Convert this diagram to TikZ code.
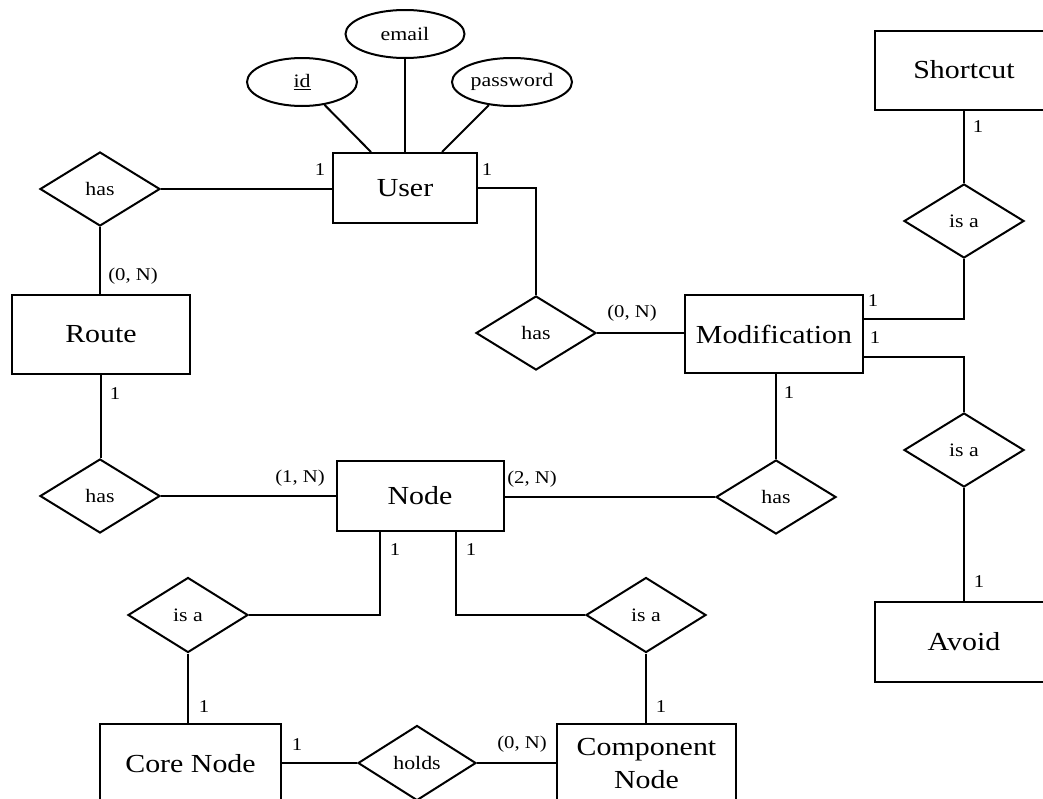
\documentclass[tikz,border=0pt]{standalone}
\usepackage{fontspec}
\setmainfont[FakeStretch=1.15]{Liberation Serif}
\usetikzlibrary{shapes.geometric,calc}
\tikzset{
  base/.style={line width=2pt, draw=black},
  entity/.style={base, rectangle, inner sep=0pt, minimum width=178pt, minimum height=79pt, font=\fontsize{26}{33}\selectfont, align=center},
  rel/.style={base, diamond, inner sep=0pt, minimum width=120pt, minimum height=74pt, font=\fontsize{19}{22}\selectfont},
  attr/.style={base, ellipse, inner sep=0pt, minimum height=48pt, font=\fontsize{19}{22}\selectfont},
  card/.style={inner sep=0pt, font=\fontsize{18}{20}\selectfont},
  conn/.style={line width=2pt}
}
\begin{document}
\begin{tikzpicture}[x=1pt,y=-1pt]
\useasboundingbox (0,0) rectangle (1043,798);
\clip (0,0) rectangle (1043,798);
% entities
\node[entity, minimum width=144pt, minimum height=70pt] (user) at (405,188) {User};
\node[entity] (route) at (101,334) {Route};
\node[entity, minimum width=167pt, minimum height=70pt] (node) at (420,496) {Node};
\node[entity, minimum height=78pt] (mod) at (774,334) {Modification};
\node[entity] (shortcut) at (964,70) {Shortcut};
\node[entity, minimum height=80pt] (avoid) at (964,642) {Avoid};
\node[entity, minimum width=181pt] (core) at (190.5,763.5) {Core Node};
\node[entity, minimum width=179pt] (comp) at (646.5,763.5) {Component\\Node};
% attributes
\node[attr, minimum width=119pt] (email) at (405,34) {email};
\node[attr, minimum width=110pt] (id) at (302,82) {\underline{id}};
\node[attr, minimum width=120pt] (pw) at (512,82) {password};
% relationships
\node[rel] (hasA) at (100,189) {has};
\node[rel] (hasB) at (100,496) {has};
\node[rel] (hasM) at (536,333) {has};
\node[rel] (hasC) at (776,497) {has};
\node[rel] (isaS) at (964,221) {is a};
\node[rel] (isaA) at (964,450) {is a};
\node[rel, minimum height=75pt] (isaL) at (188,615) {is a};
\node[rel, minimum height=75pt] (isaR) at (646,615) {is a};
\node[rel, minimum width=118pt, minimum height=75pt] (holds) at (417,763) {holds};
% attribute links
\draw[conn] (id) -- (user.north -| 371,0);
\draw[conn] (email) -- (user.north -| email.south);
\draw[conn] (pw) -- (user.north -| 442,0);
% connectors
\draw[conn] (hasA.east) -- (hasA.east -| user.west);
\draw[conn] (hasA.south) -- (hasA.south |- route.north);
\draw[conn] (route.south) -- (route.south |- hasB.north);
\draw[conn] (hasB.east) -- (hasB.east -| node.west);
\draw[conn] (user.east) -| (hasM.north);
\draw[conn] (hasM.east) -- (hasM.east -| mod.west);
\draw[conn] (hasC.north) -- (hasC.north |- mod.south);
\draw[conn] (node.east |- hasC.west) -- (hasC.west);
\draw[conn] (mod.east |- 0,319) -| (isaS.south);
\draw[conn] (shortcut.south -| isaS.north) -- (isaS.north);
\draw[conn] (mod.east |- 0,357) -| (isaA.north);
\draw[conn] (isaA.south) -- (isaA.south |- avoid.north);
\draw[conn] (node.south -| 380,0) |- (isaL.east);
\draw[conn] (node.south -| 456,0) |- (isaR.west);
\draw[conn] (isaL.south) -- (isaL.south |- core.north);
\draw[conn] (isaR.south) -- (isaR.south |- comp.north);
\draw[conn] (holds.west -| core.east) -- (holds.west);
\draw[conn] (holds.east) -- (holds.east -| comp.west);
% cardinalities
\node[card] (c1) at (320,170) {1};
\node[card] (c2) at (487,170) {1};
\node[card] (c3) at (133,276) {(0, N)};
\node[card] (c4) at (115,394) {1};
\node[card] (c5) at (300,478) {(1, N)};
\node[card] (c6) at (532,479) {(2, N)};
\node[card] (c7) at (395,550) {1};
\node[card] (c8) at (471,550) {1};
\node[card] (c9) at (661,707) {1};
\node[card] (c10) at (522,744) {(0, N)};
\node[card] (c11) at (297,745) {1};
\node[card] (c12) at (204,707) {1};
\node[card] (c13) at (632,313) {(0, N)};
\node[card] (c14) at (873,301) {1};
\node[card] (c15) at (875,338) {1};
\node[card] (c16) at (789,393) {1};
\node[card] (c17) at (979,582) {1};
\node[card] (c18) at (978,127) {1};
\end{tikzpicture}
\end{document}
